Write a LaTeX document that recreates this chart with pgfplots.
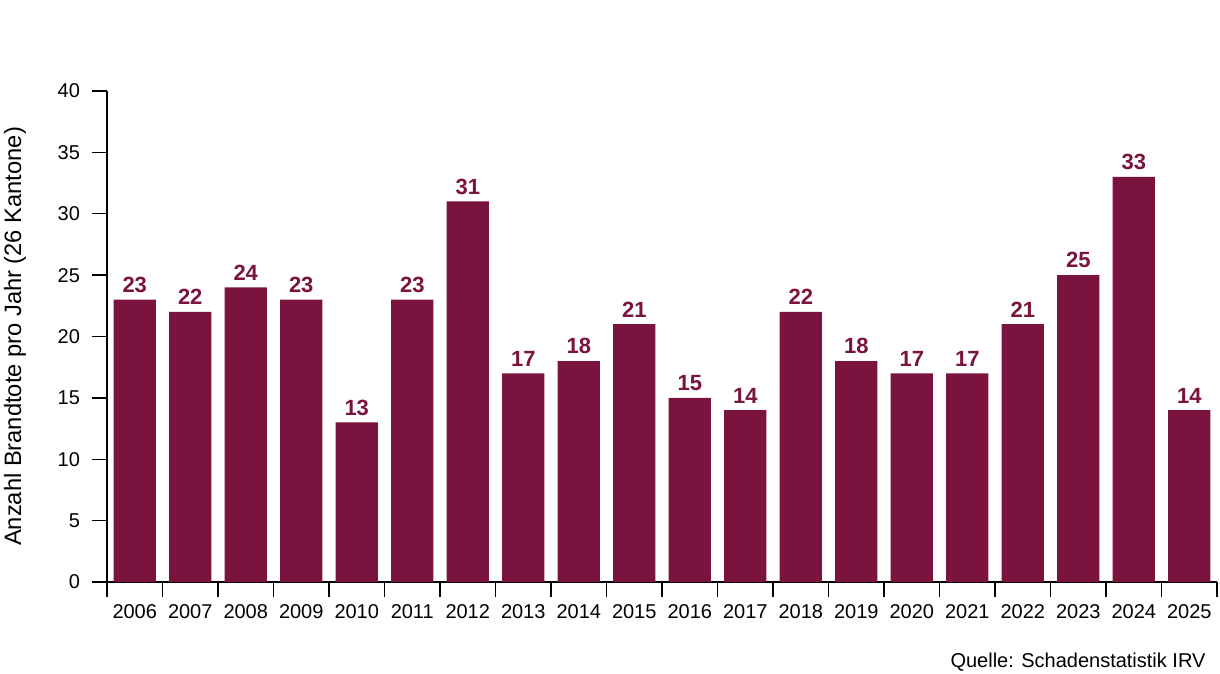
\documentclass[border=0pt]{standalone}
\usepackage{fontspec}
\setmainfont{Liberation Sans}
\usepackage{pgfplots}
\pgfplotsset{compat=1.18}
\definecolor{barc}{RGB}{122,19,62}
\begin{document}
\begin{tikzpicture}
\path[use as bounding box] (-53.5pt,-46pt) rectangle (556.5pt,291pt);
\begin{axis}[
  at={(0,0)}, anchor=south west,
  scale only axis, width=555pt, height=245.5pt,
  xmin=-0.5, xmax=19.5, ymin=0, ymax=40,
  axis lines=left, axis line style={-, line width=0.7pt, black},
  ybar, bar width=0.76,
  ytick={0,5,...,40},
  xtick={0,...,19},
  xticklabels={2006,2007,2008,2009,2010,2011,2012,2013,2014,2015,2016,2017,2018,2019,2020,2021,2022,2023,2024,2025},
  minor xtick={-0.5,0.5,...,19.5},
  tick align=outside,
  major tick length=7.5pt, minor tick length=7.5pt,
  major x tick style={draw=none},
  minor x tick style={black, line width=0.7pt},
  ytick style={black, line width=0.7pt},
  /pgf/number format/assume math mode=true,
  tick label style={font=\fontsize{10}{12}\selectfont},
  yticklabel style={xshift=-2.5pt},
  ylabel={Anzahl Brandtote pro Jahr (26 Kantone)},
  ylabel style={at={(axis description cs:-0.083,0.5)}, anchor=center, font=\fontsize{11.85}{14}\selectfont},
  nodes near coords,
  every node near coord/.append style={font=\bfseries\fontsize{11}{13}\selectfont, text=barc},
  clip=false,
]
\addplot[fill=barc, draw=none] coordinates {
(0,23) (1,22) (2,24) (3,23) (4,13) (5,23) (6,31) (7,17) (8,18) (9,21)
(10,15) (11,14) (12,22) (13,18) (14,17) (15,17) (16,21) (17,25) (18,33) (19,14)
};
\node[anchor=east, font=\fontsize{10}{12}\selectfont] at (axis description cs:0.996,-0.163) {Quelle: Schadenstatistik IRV};
\end{axis}
\end{tikzpicture}
\end{document}
